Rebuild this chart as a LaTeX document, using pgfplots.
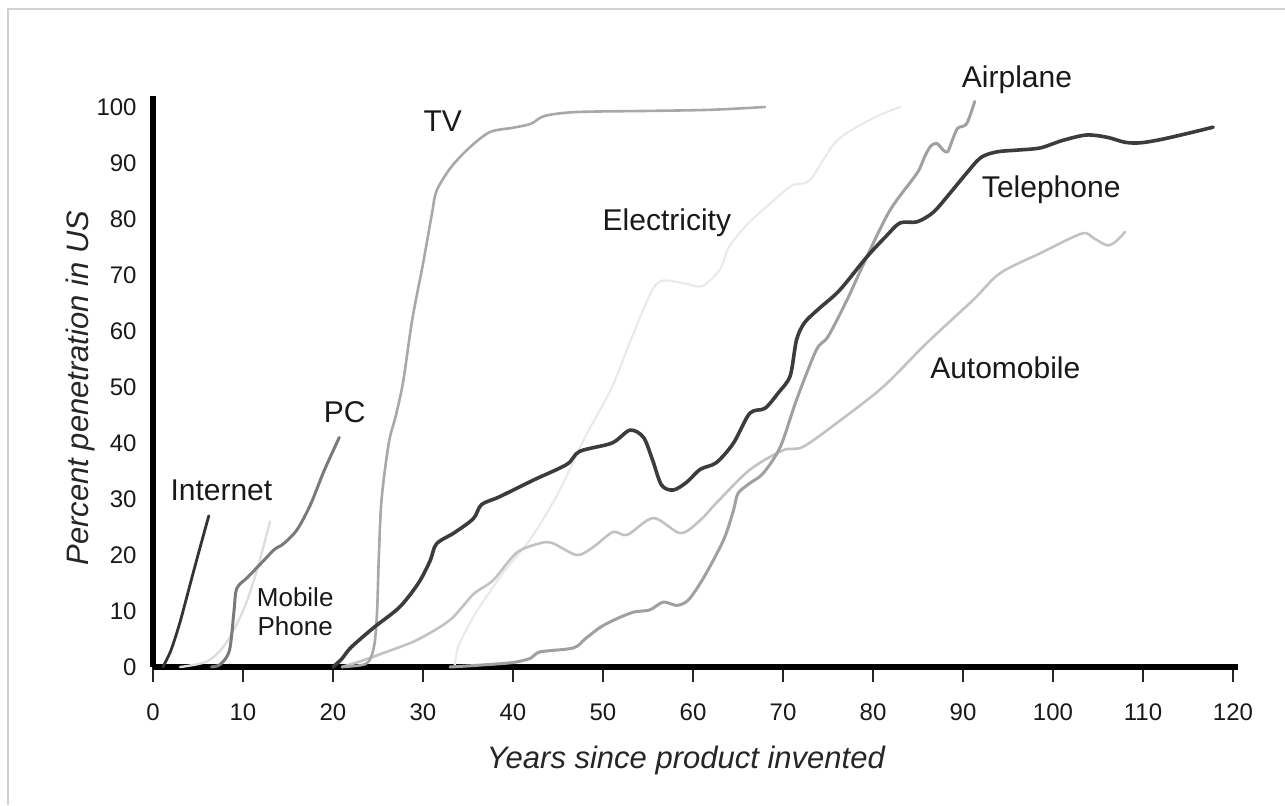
\documentclass[border=0pt]{standalone}
\usepackage{pgfplots}
\pgfplotsset{compat=1.18}
\usepackage{fontspec}
\setmainfont{Liberation Sans}
\definecolor{cTel}{HTML}{3C3C3C}
\definecolor{cNet}{HTML}{333333}
\definecolor{cPC}{HTML}{7A7A7A}
\definecolor{cTV}{HTML}{A8A8A8}
\definecolor{cAir}{HTML}{A0A0A0}
\definecolor{cAuto}{HTML}{C2C2C2}
\definecolor{cMob}{HTML}{DDDDDD}
\definecolor{cEl}{HTML}{EAEAEA}
\begin{document}
\begin{tikzpicture}
\useasboundingbox (-76.5pt,-69pt) rectangle (566pt,333.5pt);
\draw[line width=1pt, black!18] (-72.5pt,-69pt) -- (-72.5pt,329pt) -- (566pt,329pt);
\begin{axis}[
  anchor=origin, at={(0pt,0pt)},
  scale only axis, width=542.25pt, height=285.6pt,
  xmin=0, xmax=120.5, ymin=0, ymax=102,
  clip=false,
  axis lines=left,
  axis line style={-, line width=3.3pt, black},
  xtick={0,10,...,120}, ytick={0,10,...,100},
  tick align=outside,
  major tick length=7.5pt,
  xtick style={line width=0.8pt, black!85},
  ytick style={draw=none},
  /pgf/number format/assume math mode=true,
  ticklabel style={font=\fontsize{12}{14}\selectfont, text=black!90},
  xticklabel style={anchor=center, yshift=-15pt},
  yticklabel style={anchor=east, inner sep=0pt, xshift=-0.5pt},
  xlabel={\itshape Years since product invented},
  ylabel={\itshape Percent penetration in US},
  label style={font=\fontsize{15.5}{18}\selectfont, text=black!85},
  x label style={at={(axis cs:59.2,0)}, anchor=center, yshift=-46.5pt},
  y label style={at={(axis cs:0,49.8)}, anchor=center, rotate=0, yshift=36.5pt},
  every axis plot/.append style={smooth, tension=0.5, line cap=round, line join=round},
]
% Electricity
\addplot[cEl, line width=1.1pt] coordinates {(33.5,0) (34,4) (36,10) (39,17) (42,23) (45,31) (48,41) (51,50) (53.5,60) (56,68.5) (59,68.5) (61,68) (63,71) (64,75) (66,79) (68.6,82.8) (71,86) (73,87) (76,94) (80,98) (83,100)};
% Mobile phone
\addplot[cMob, line width=1.2pt] coordinates {(3,0) (6,1) (8,4) (10,10) (11.5,17) (13,26)};
% Automobile
\addplot[cAuto, line width=1.3pt] coordinates {(21,0) (23,1) (25.6,2.5) (29.3,4.8) (33,8.4) (35.6,13) (37.8,15.5) (40.4,20.4) (43,22.1) (44.4,22.1) (47.1,20) (48.9,21.4) (51.1,24.1) (52.7,23.6) (55.6,26.6) (58.6,23.9) (60.8,26.2) (62.6,29.3) (66.3,35.2) (70,38.7) (72.2,39.3) (76,43.6) (81.1,50) (86,57.9) (91.1,65.5) (94.1,70.3) (98.6,73.9) (103.2,77.4) (104.5,76.6) (106,75.3) (107,76) (108,77.7)};
% TV
\addplot[cTV, line width=1.3pt] coordinates {(21,0) (23,0.3) (24,1) (24.6,4) (24.9,10) (25.1,20) (25.4,30) (26.2,40) (27,45) (27.8,51) (28.8,62) (30,72) (31,81) (31.5,85) (33,89) (35,92.5) (37.4,95.5) (40,96.3) (42,97) (43.5,98.4) (47,99.1) (55,99.3) (62,99.5) (68,100)};
% Airplane
\addplot[cAir, line width=1.5pt] coordinates {(33,0) (36,0.3) (40,0.8) (42,1.6) (43,2.7) (46.7,3.4) (48,5) (49.7,7.1) (51.5,8.6) (53.4,9.8) (55.2,10.2) (56.7,11.6) (58.2,11) (59.5,12) (61.2,16) (63.4,22.7) (64.5,28) (65,31) (66.3,32.8) (67.8,34.6) (69.7,39.3) (71.5,47.7) (73.7,56.6) (75,59) (77.1,65.5) (79.3,73.2) (81.9,81.6) (84.9,88.2) (85.7,91) (86.4,93) (87.1,93.5) (87.8,92.3) (88.3,92) (88.8,94) (89.4,96.2) (90.4,97) (91.3,101)};
% PC
\addplot[cPC, line width=1.5pt] coordinates {(6.5,0) (7.5,0.5) (8.5,3) (9,10) (9.3,14) (10.5,16) (12,18.5) (13.5,21) (14.5,22) (16,24.5) (17.5,29) (19,35) (20.7,41)};
% Internet
\addplot[cNet, line width=1.4pt] coordinates {(1.1,0) (2,3) (3,8) (4,14) (5,20) (6.2,27)};
% Telephone
\addplot[cTel, line width=1.8pt] coordinates {(20,0) (21,1.5) (22,3.5) (24.5,7) (27.4,10.7) (29.5,15) (30.8,19) (31.5,22) (33.5,24) (35.6,26.5) (36.5,29) (38.5,30.4) (42.3,33.4) (46,36.2) (47.4,38.5) (51,40) (53,42.3) (54.5,41) (55.5,37) (56.5,32.5) (57.8,31.6) (59.3,33) (60.8,35.3) (62.6,36.5) (64.5,40) (66.3,45.3) (68,46.2) (69.5,49) (70.8,52) (71.5,58.4) (72.4,61.5) (74,64) (76.3,67.3) (79.3,73.2) (81.5,77) (83,79.3) (84.9,79.5) (86.7,81.2) (88.5,84.5) (90.4,88.2) (92,91) (93.8,92) (96,92.3) (98.6,92.7) (101,94) (103.7,95) (106,94.6) (108,93.7) (109.7,93.6) (112,94.2) (115,95.3) (117.8,96.4)};
% Labels
\begin{scope}[every node/.style={anchor=base, font=\fontsize{15}{18}\selectfont, text=black!90}]
\node at (axis cs:7.6,29.8) {Internet};
\node at (axis cs:21.3,43.6) {PC};
\node at (axis cs:32.2,95.6) {TV};
\node at (axis cs:57.1,78) {Electricity};
\node at (axis cs:96,103.4) {Airplane};
\node at (axis cs:99.8,83.9) {Telephone};
\node at (axis cs:94.7,51.6) {Automobile};
\node[font=\fontsize{13}{15}\selectfont] at (axis cs:15.8,10.8) {Mobile};
\node[font=\fontsize{13}{15}\selectfont] at (axis cs:15.8,5.7) {Phone};
\end{scope}
\end{axis}
\end{tikzpicture}
\end{document}
